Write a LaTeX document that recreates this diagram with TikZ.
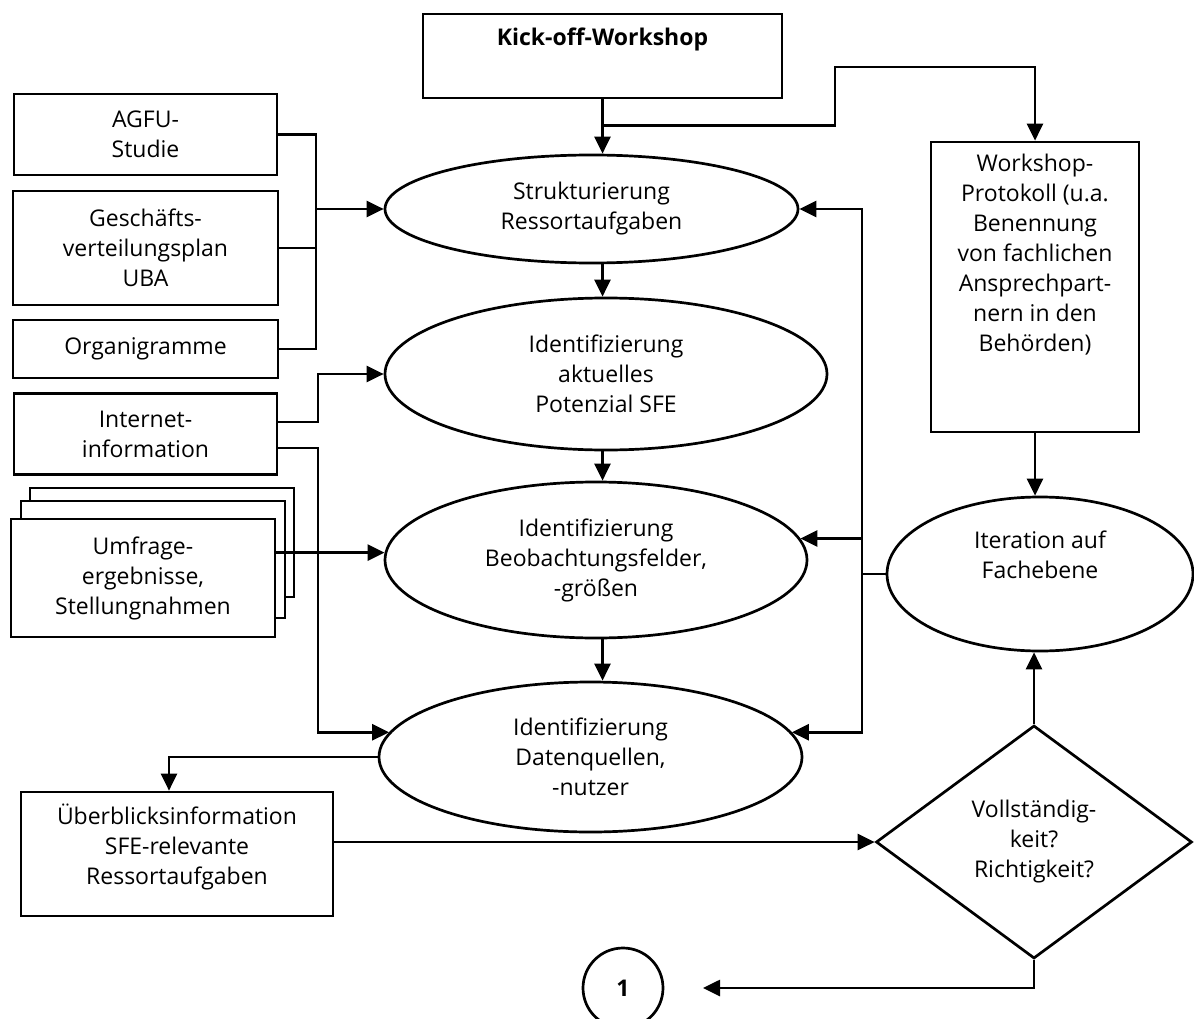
\documentclass[tikz,border=0pt]{standalone}
\usepackage{fontspec}
\setmainfont{Open Sans}
\usetikzlibrary{arrows.meta,shapes.geometric,calc}
\begin{document}
\begin{tikzpicture}[x=1pt,y=-1pt,line width=2.7pt,
  every node/.style={font=\fontsize{23}{30}\selectfont, align=center},
  box/.style={draw, rectangle, inner sep=0pt},
  ell/.style={draw, ellipse, inner sep=0pt},
  arr/.style={-{Triangle[length=17pt,width=16pt]}}]
\fill[white] (0,0) rectangle (1194,1019);
\useasboundingbox (0,0) rectangle (1194,1019);

% boxes
\node[box, minimum width=359, minimum height=84] (kick) at (602.5,56) {\bfseries Kick-off-Workshop\\ \strut};
\node[box, minimum width=263, minimum height=81] (agfu) at (145.5,134.5) {AGFU-\\Studie};
\node[box, minimum width=265, minimum height=114] (gesch) at (145.5,248) {Geschäfts-\\verteilungsplan\\UBA};
\node[box, minimum width=265, minimum height=58] (organ) at (145.5,349) {Organigramme};
\node[box, minimum width=263, minimum height=81] (inet) at (145.5,434) {Internet-\\information};
\node[box, fill=white, minimum width=264, minimum height=109] (stackC) at (162,542.5) {};
\node[box, fill=white, minimum width=264, minimum height=117] (stackB) at (153,559.5) {};
\node[box, fill=white, minimum width=264, minimum height=118] (stack) at (143,578) {Umfrage-\\ergebnisse,\\Stellungnahmen};
\node[box, minimum width=312, minimum height=124] (ueber) at (177,854) {Überblicksinformation\\SFE-relevante\\Ressortaufgaben\rule[-20pt]{0pt}{20pt}};

% ellipses
\node[ell, minimum width=413, minimum height=108] (E1) at (591.5,209) {Strukturierung\\Ressortaufgaben};
\node[ell, minimum width=442, minimum height=152] (E2) at (606,374) {Identifizierung\\aktuelles\\Potenzial SFE};
\node[ell, minimum width=422, minimum height=156] (E3) at (596,560) {Identifizierung\\Beobachtungsfelder,\\-größen};
\node[ell, minimum width=423, minimum height=150] (E4) at (590.5,757) {Identifizierung\\Datenquellen,\\-nutzer};

% right column
\node[box, minimum width=208, minimum height=290] (wsp) at (1035,287) {Workshop-\\Protokoll (u.a.\\Benennung\\von fachlichen\\Ansprechpart-\\nern in den\\Behörden)\\ \strut\\ \strut};
\node[ell, minimum width=306, minimum height=154] (iter) at (1040,574) {Iteration auf\\Fachebene\\ \strut};
\node[diamond, draw, inner sep=0pt, minimum width=316, minimum height=233] (chk) at (1034,842) {Vollständig-\\keit?\\Richtigkeit?};
\node[draw, circle, minimum size=80, inner sep=0pt] (one) at (623,988) {\bfseries 1};

% helper coordinates
\coordinate (lb1) at (316,0);
\coordinate (lb2) at (318,0);
\coordinate (rb) at (862,0);
\coordinate (topc) at (835,67);
\coordinate (onetip) at (703,988);

% connectors
\draw[arr] (kick.south) -- (kick.south |- E1.north);
\draw[arr] ($(kick.south)+(0,26)$) -| (topc) -| (wsp.north);

\draw (agfu.east) -| (lb1 |- organ.east) -- (organ.east);
\draw (gesch.east) -- (gesch.east -| lb1);
\draw[arr] (E1.west -| lb1) -- (E1.west);
\draw[arr] ($(inet.east)+(0,-12)$) -| (E2.west -| lb2) -- (E2.west);
\draw[arr] ($(inet.east)+(0,14)$) -| (E4.173 -| lb2) -- (E4.173);
\draw[arr] (E3.178 -| stack.east) -- (E3.178);

\draw[arr] (E1.south -| kick.south) -- (E2.north -| kick.south);
\draw[arr] (E2.south -| kick.south) -- (E3.north -| kick.south);
\draw[arr] (E3.south -| kick.south) -- (E4.north -| kick.south);

\draw[arr] (E4.west) -| ($(ueber.north)+(-8,0)$);
\draw[arr] (chk.west -| ueber.east) -- (chk.west);

\draw[arr] (rb |- E4.7) |- (E1.east);
\draw[arr] (rb |- E3.6) -- (E3.6);
\draw[arr] (rb |- E3.6) |- (E4.7);
\draw (iter.west) -- (iter.west -| rb);

\draw[arr] (wsp.south) -- (wsp.south |- iter.north);
\draw[arr] (chk.north) -- (chk.north |- iter.south);
\draw[arr] (chk.south) |- (onetip);
\end{tikzpicture}
\end{document}
